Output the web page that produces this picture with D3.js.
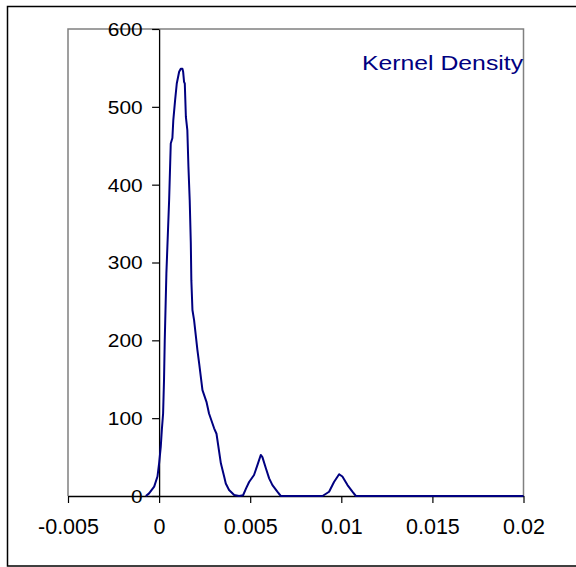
<!DOCTYPE html>
<html>
<head>
<meta charset="utf-8">
<script src="https://cdn.jsdelivr.net/npm/d3@7"></script>
<style>
  html, body { margin: 0; padding: 0; background: #fff; }
  svg { display: block; }
  text { font-family: "Liberation Sans", Arial, sans-serif; }
</style>
</head>
<body>
<svg id="chart" width="576" height="567"></svg>
<script>
// Kernel density estimate: sample positions and density values
const densityX = [
  -0.00073, -0.00055, -0.00027, -0.00009, 0.0, 0.00009, 0.00015, 0.00022,
  0.00027, 0.00031, 0.0004, 0.00055, 0.00064, 0.00073, 0.00078, 0.00088,
  0.00097, 0.0011, 0.00119, 0.00128, 0.00132, 0.00137, 0.00141, 0.00147,
  0.00155, 0.00161, 0.00168, 0.00174, 0.00177, 0.00183, 0.00192, 0.0021,
  0.0022, 0.00238, 0.0026, 0.00274, 0.00302, 0.00315, 0.00339, 0.00357,
  0.00366, 0.00384, 0.00412, 0.00439, 0.00461, 0.00478, 0.00494, 0.00521,
  0.0054, 0.00558, 0.00567, 0.00586, 0.00604, 0.00622, 0.00649, 0.00668,
  0.00897, 0.00933, 0.0096, 0.00988, 0.01006, 0.01034, 0.01061, 0.0108,
  0.02
];
const densityY = [
  0, 3.4, 12, 25, 42, 63, 85, 106,
  149, 200, 286, 380, 453, 460, 483, 509,
  530, 545, 549, 549, 545, 532, 530, 487,
  470, 423, 380, 325, 277, 239, 226, 188,
  170, 136, 121, 106, 87, 80, 42, 25,
  16, 7.7, 1.3, 0, 1, 10, 18, 27,
  40, 52.7, 50, 35.6, 22.7, 14, 5.5, 0,
  0, 5.5, 18, 28, 25, 14, 5.5, 0,
  0
];

const xTickValues = [-0.005, 0, 0.005, 0.01, 0.015, 0.02];
const xTickLabels = ["-0.005", "0", "0.005", "0.01", "0.015", "0.02"];
const yTickValues = [0, 100, 200, 300, 400, 500, 600];
const yTickLabels = ["0", "100", "200", "300", "400", "500", "600"];
const seriesName = "Kernel Density";

const svg = d3.select("#chart");
const lineColor = "#000080";

// Outer chart frame
svg.append("rect")
  .attr("x", 7.5).attr("y", 6.5)
  .attr("width", 620).attr("height", 559.5)
  .attr("fill", "none").attr("stroke", "#000").attr("stroke-width", 1.5);

const plot = { left: 68, right: 523.5, top: 29, bottom: 496 };

const x = d3.scaleLinear().domain([-0.005, 0.02]).range([plot.left, plot.right]);
const y = d3.scaleLinear().domain([0, 600]).range([plot.bottom, plot.top]);

// Plot-area border (grey) on top, left, right
svg.append("path")
  .attr("d", `M${plot.left},${plot.bottom} V${plot.top} H${plot.right} V${plot.bottom}`)
  .attr("fill", "none").attr("stroke", "#808080").attr("stroke-width", 1.5);

// X axis
const xAxis = svg.append("g")
  .attr("transform", `translate(0,${plot.bottom})`)
  .call(d3.axisBottom(x)
    .tickValues(xTickValues)
    .tickFormat((d, i) => xTickLabels[i])
    .tickSize(7).tickSizeOuter(0));
xAxis.select(".domain").attr("stroke", "#000").attr("stroke-width", 1.3);
xAxis.selectAll(".tick line").attr("stroke", "#000").attr("stroke-width", 1.2);
xAxis.selectAll(".tick text")
  .attr("y", 38).attr("dy", 0)
  .attr("font-size", 21.5).attr("fill", "#000");

// Y axis at x = 0
const yAxis = svg.append("g")
  .attr("transform", `translate(${x(0)},0)`)
  .call(d3.axisLeft(y)
    .tickValues(yTickValues)
    .tickFormat((d, i) => yTickLabels[i])
    .tickSize(7).tickSizeOuter(0));
yAxis.select(".domain").attr("stroke", "#000").attr("stroke-width", 1.3);
yAxis.selectAll(".tick line").attr("stroke", "#000").attr("stroke-width", 1.2);
yAxis.selectAll(".tick text")
  .attr("x", 0).attr("dy", 0)
  .attr("transform", "translate(-16.5,6.4) scale(1.18,1)")
  .attr("text-anchor", "end")
  .attr("font-size", 17.7).attr("fill", "#000");

// Density curve
const pts = densityX.map((d, i) => [d, densityY[i]]);
const line = d3.line().x(d => x(d[0])).y(d => y(d[1]));
svg.append("path")
  .datum(pts)
  .attr("d", line)
  .attr("fill", "none")
  .attr("stroke", lineColor)
  .attr("stroke-width", 2)
  .attr("stroke-linejoin", "round");

// Legend label
svg.append("text")
  .attr("transform", "translate(362,70) scale(1.18,1)")
  .attr("font-size", 21)
  .attr("fill", lineColor)
  .text(seriesName);
</script>
</body>
</html>
